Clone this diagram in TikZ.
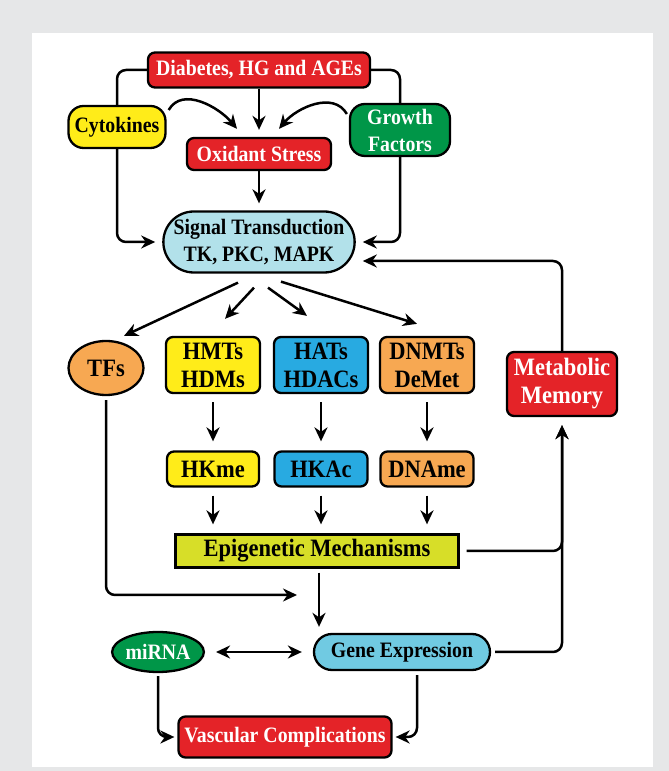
\documentclass[tikz,border=0pt]{standalone}
\usepackage{fontspec}
\setmainfont{Liberation Serif}[FakeStretch=0.9]
\usetikzlibrary{arrows.meta,shapes.geometric,shapes.misc}
\definecolor{panelgray}{RGB}{230,231,232}
\definecolor{hgred}{RGB}{228,35,40}
\definecolor{cytoyellow}{RGB}{255,236,25}
\definecolor{gfgreen}{RGB}{0,150,72}
\definecolor{sigblue}{RGB}{178,225,234}
\definecolor{geneblue}{RGB}{112,202,226}
\definecolor{hatblue}{RGB}{40,170,225}
\definecolor{dnaorange}{RGB}{247,168,82}
\definecolor{epiyellow}{RGB}{215,222,40}
\tikzset{
  nodebox/.style={draw=black, line width=2.3pt, rounded corners=7pt, align=center,
    inner sep=0pt, font=\bfseries\fontsize{22}{27}\selectfont},
  pillbox/.style={draw=black, line width=2.3pt, rounded rectangle, align=center,
    inner sep=0pt, font=\bfseries\fontsize{22}{27}\selectfont},
  ovalbox/.style={draw=black, line width=2.3pt, ellipse, align=center,
    inner sep=0pt, font=\bfseries\fontsize{22}{27}\selectfont},
  tierfont/.style={font=\bfseries\fontsize{25}{28}\selectfont},
  flowln/.style={-{Stealth[length=14pt,width=13pt,inset=4.5pt]}, line width=2.5pt,
    rounded corners=9pt},
  gapln/.style={shorten <=8pt, shorten >=9pt},
}

\begin{document}
\begin{tikzpicture}[x=1pt,y=1pt]
  \fill[panelgray] (0,0) rectangle (669,771);
  \fill[white] (32,4) rectangle (653,738);

  \node[nodebox, fill=hgred, text=white, minimum width=222pt, minimum height=35pt] (diab) at (259,701) {Diabetes, HG and AGEs};
  \node[nodebox, fill=cytoyellow, rounded corners=15pt, minimum width=97pt, minimum height=42pt] (cyto) at (117,644) {Cytokines};
  \node[nodebox, fill=gfgreen, text=white, rounded corners=15pt, minimum width=100pt, minimum height=52pt] (growth) at (400,641) {Growth\\Factors};
  \node[nodebox, fill=hgred, text=white, minimum width=144pt, minimum height=32pt] (oxid) at (259,617) {Oxidant Stress};
  \node[pillbox, fill=sigblue, minimum width=190pt, minimum height=61pt] (sig) at (259,529) {Signal Transduction\\TK, PKC, MAPK};

  \node[ovalbox, tierfont, fill=dnaorange, minimum width=75pt, minimum height=54pt] (tfs) at (106,403) {TFs};
  \node[nodebox, tierfont, fill=cytoyellow, minimum width=94pt, minimum height=56pt] (hmt) at (213,406) {HMTs\\HDMs};
  \node[nodebox, tierfont, fill=hatblue, minimum width=94pt, minimum height=56pt] (hat) at (321,406) {HATs\\HDACs};
  \node[nodebox, tierfont, fill=dnaorange, minimum width=94pt, minimum height=56pt] (dnmt) at (427,406) {DNMTs\\DeMet};
  \node[nodebox, tierfont, fill=hgred, text=white, minimum width=110pt, minimum height=64pt] (metab) at (562,387) {Metabolic\\Memory};

  \node[nodebox, tierfont, fill=cytoyellow, minimum width=92pt, minimum height=35pt] (hkme) at (213,302) {HKme};
  \node[nodebox, tierfont, fill=hatblue, minimum width=93pt, minimum height=35pt] (hkac) at (321,302) {HKAc};
  \node[nodebox, tierfont, fill=dnaorange, minimum width=93pt, minimum height=35pt] (dname) at (427,302) {DNAme};
  \node[nodebox, tierfont, fill=epiyellow, rounded corners=0pt, minimum width=283pt, minimum height=33pt] (epi) at (317,220) {Epigenetic Mechanisms};

  \node[ovalbox, fill=gfgreen, text=white, minimum width=88pt, minimum height=40pt] (mirna) at (158,119) {miRNA};
  \node[pillbox, fill=geneblue, minimum width=176pt, minimum height=36pt] (gene) at (402,119) {Gene Expression};
  \node[nodebox, fill=hgred, text=white, minimum width=213pt, minimum height=41pt] (vasc) at (285,34) {Vascular Complications};
  \coordinate (tfsend) at (297,176);

  \draw[flowln, -] (diab.west) -| (cyto.north);
  \draw[flowln, -] (diab.east) -| (growth.north);
  \draw[flowln] (cyto.south) |- ([xshift=-7pt]sig.west);
  \draw[flowln] (growth.south) |- ([xshift=7pt]sig.east);
  \draw[flowln, shorten >=7pt] (diab.south) -- (oxid.north);
  \draw[flowln] ([xshift=2pt,yshift=17pt]cyto.east) to[out=60,in=130] ([xshift=-22pt,yshift=8pt]oxid.north);
  \draw[flowln] ([xshift=-2pt,yshift=16pt]growth.west) to[out=120,in=50] ([xshift=20pt,yshift=8pt]oxid.north);
  \draw[flowln, shorten >=7pt] (oxid.south) -- (sig.north);

  \draw[flowln] ([xshift=-21pt,yshift=-9pt]sig.south) -- ([xshift=18pt,yshift=4pt]tfs.north);
  \draw[flowln] ([xshift=-5pt,yshift=-14pt]sig.south) -- ([xshift=12pt,yshift=17pt]hmt.north);
  \draw[flowln] ([xshift=9pt,yshift=-14pt]sig.south) -- ([xshift=-14pt,yshift=20pt]hat.north);
  \draw[flowln] ([xshift=22pt,yshift=-8pt]sig.south) -- ([xshift=-10pt,yshift=12pt]dnmt.north);

  \draw[flowln, gapln] (hmt.south) -- (hkme.north);
  \draw[flowln, gapln] (hat.south) -- (hkac.north);
  \draw[flowln, gapln] (dnmt.south) -- (dname.north);
  \draw[flowln, gapln] (hkme.south) -- (hkme.south |- epi.north);
  \draw[flowln, gapln] (hkac.south) -- (hkac.south |- epi.north);
  \draw[flowln, gapln] (dname.south) -- (dname.south |- epi.north);

  \draw[flowln, shorten <=4pt] (tfs.south) |- (tfsend);
  \draw[flowln, shorten <=4pt, shorten >=6pt] ([xshift=2pt]epi.south) -- ([xshift=2pt]epi.south |- gene.north);
  \draw[flowln, shorten <=7pt, shorten >=8pt] (epi.east) -| (metab.south);
  \draw[flowln, shorten <=4pt, shorten >=8pt] (gene.east) -| (metab.south);
  \draw[flowln] (metab.north) |- ([xshift=7pt,yshift=-19pt]sig.east);

  \draw[flowln, {Stealth[length=14pt,width=13pt,inset=4.5pt]}-{Stealth[length=14pt,width=13pt,inset=4.5pt]}, shorten <=11pt, shorten >=11pt] (mirna.east) -- (gene.west);
  \draw[flowln, shorten <=3pt] (mirna.south) |- ([xshift=-3pt]vasc.west);
  \draw[flowln, shorten <=4pt] ([xshift=15pt]gene.south) |- ([xshift=3pt]vasc.east);
\end{tikzpicture}
\end{document}
